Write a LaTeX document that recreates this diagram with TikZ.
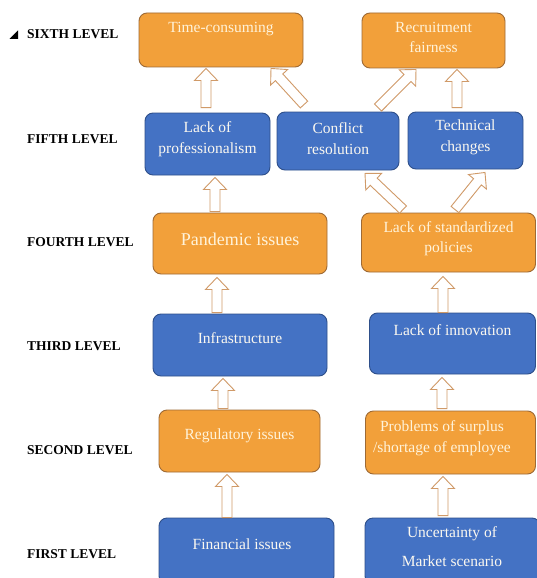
\documentclass[tikz,border=0pt]{standalone}
\usepackage{fontspec}
\setmainfont{Liberation Serif}
\usetikzlibrary{calc}
\definecolor{orfill}{HTML}{F2A03A}
\definecolor{ordraw}{HTML}{9E6A35}
\definecolor{blfill}{HTML}{4472C4}
\definecolor{bldraw}{HTML}{2E4F8A}
\definecolor{arrdraw}{HTML}{D09A68}
\definecolor{ortext}{HTML}{FFF3DA}
\definecolor{bltext}{HTML}{FBF8F0}
\tikzset{
  obox/.style={draw=ordraw, fill=orfill, line width=0.9pt, rounded corners=8pt, inner sep=0pt},
  bbox/.style={draw=bldraw, fill=blfill, line width=0.9pt, rounded corners=8pt, inner sep=0pt},
  otxt/.style={text=ortext, font=\fontsize{15.5}{20}\selectfont, align=center, inner sep=0pt},
  btxt/.style={text=bltext, font=\fontsize{15.5}{20}\selectfont, align=center, inner sep=0pt},
  lvl/.style={anchor=west, font=\fontsize{13.5}{15}\selectfont\bfseries, inner sep=0pt},
  blockarr/.style={draw=arrdraw, fill=white, line width=0.9pt, line join=miter}
}
\newcommand{\blockarrow}[2]{%
  \coordinate (ba-t) at #1;
  \coordinate (ba-p) at #2;
  \coordinate (ba-h) at ($(ba-p)!12pt!(ba-t)$);
  \draw[blockarr] ($(ba-t)!5pt!90:(ba-p)$) -- ($(ba-h)!5pt!-90:(ba-t)$) -- ($(ba-h)!11.5pt!-90:(ba-t)$) -- (ba-p) -- ($(ba-h)!11.5pt!90:(ba-t)$) -- ($(ba-h)!5pt!90:(ba-t)$) -- ($(ba-t)!5pt!-90:(ba-p)$) -- cycle;}
\begin{document}
\begin{tikzpicture}[x=1pt, y=-1pt]
\useasboundingbox (0,0) rectangle (537,578);
\clip (0,0) rectangle (537,578);
\fill[white] (0,0) rectangle (537,578);

% level labels
\fill[black] (9.5,39) -- (18,39) -- (18,30.5) -- cycle;
\node[lvl] (l6) at (27,34) {SIXTH LEVEL};
\node[lvl] (l5) at (27,139) {FIFTH LEVEL};
\node[lvl] (l4) at (27,242) {FOURTH LEVEL};
\node[lvl] (l3) at (27,346) {THIRD LEVEL};
\node[lvl] (l2) at (27,450) {SECOND LEVEL};
\node[lvl] (l1) at (27,554) {FIRST LEVEL};

% boxes
\node[obox, minimum width=164pt, minimum height=54pt] (tc) at (221,40) {};
\node[obox, minimum width=143pt, minimum height=55pt] (rf) at (433.5,40.5) {};
\node[bbox, minimum width=125pt, minimum height=62pt] (lp) at (207.5,144) {};
\node[bbox, minimum width=122pt, minimum height=58pt] (cr) at (338,141) {};
\node[bbox, minimum width=115pt, minimum height=57pt] (tch) at (465.5,140.5) {};
\node[obox, minimum width=174pt, minimum height=61pt] (pand) at (240,243.5) {};
\node[obox, minimum width=174pt, minimum height=59pt] (lsp) at (448.5,242.5) {};
\node[bbox, minimum width=174pt, minimum height=62pt] (inf) at (240,345) {};
\node[bbox, minimum width=166pt, minimum height=61pt] (li) at (452.5,343.5) {};
\node[obox, minimum width=161pt, minimum height=62pt] (reg) at (239.5,441) {};
\node[obox, minimum width=170pt, minimum height=63pt] (pos) at (450.5,442.5) {};
\node[bbox, minimum width=175pt, minimum height=66pt] (fin) at (246.5,551) {};
\node[bbox, minimum width=175pt, minimum height=66pt] (unc) at (452.5,551) {};

% texts
\node[otxt] (ttc) at (221,29) {Time-consuming};
\node[otxt] (trf) at (433.5,37.5) {Recruitment\\fairness};
\node[btxt] (tlp) at (207.5,139.5) {Lack of\\[1pt]professionalism};
\node[btxt] (tcr) at (338,138.5) {Conflict\\[1pt]resolution};
\node[btxt] (ttch) at (465.5,137.5) {Technical\\[1pt]changes};
\node[otxt, font=\fontsize{18}{22}\selectfont] (tpand) at (240,239) {Pandemic issues};
\node[otxt] (tlsp) at (448.5,238.5) {Lack of standardized\\policies};
\node[btxt] (tinf) at (240,338) {Infrastructure};
\node[btxt] (tli) at (452.5,330) {Lack of innovation};
\node[otxt] (treg) at (239.5,436) {Regulatory issues};
\node[otxt] (tpos) at (442,438.5) {Problems of surplus\\[1pt]/shortage of employee};
\node[btxt] (tfin) at (242,544) {Financial issues};
\node[btxt] (tunc) at (452,546.5) {Uncertainty of\\[9pt]Market scenario};

% block arrows
\blockarrow{($(lp.north)+(-1.5,-5)$)}{($(tc.south)+(-15,1)$)}
\blockarrow{($(cr.north)+(-34,-7)$)}{($(tc.south)+(50,1)$)}
\blockarrow{($(cr.north)+(40,-4)$)}{($(rf.south)+(-17.5,1)$)}
\blockarrow{($(tch.north)+(-8.5,-4)$)}{($(rf.south)+(23.5,1)$)}
\blockarrow{($(pand.north)+(-25,-1)$)}{($(lp.south)+(7.5,2)$)}
\blockarrow{($(lsp.north)+(-45.5,-3)$)}{($(cr.south)+(27,3)$)}
\blockarrow{($(lsp.north)+(6.5,-3)$)}{($(tch.south)+(19.5,3)$)}
\blockarrow{($(inf.north)+(-23,-1)$)}{($(pand.south)+(-23,3)$)}
\blockarrow{($(li.north)+(-9.5,0)$)}{($(lsp.south)+(-5.5,4)$)}
\blockarrow{($(reg.north)+(-16.5,-1)$)}{($(inf.south)+(-17,2)$)}
\blockarrow{($(pos.north)+(-8.5,-2)$)}{($(li.south)+(-10.5,3)$)}
\blockarrow{($(fin.north)+(-19.5,0)$)}{($(reg.south)+(-12.5,2)$)}
\blockarrow{($(unc.north)+(-9.5,-2)$)}{($(pos.south)+(-7.5,2)$)}
\end{tikzpicture}
\end{document}
